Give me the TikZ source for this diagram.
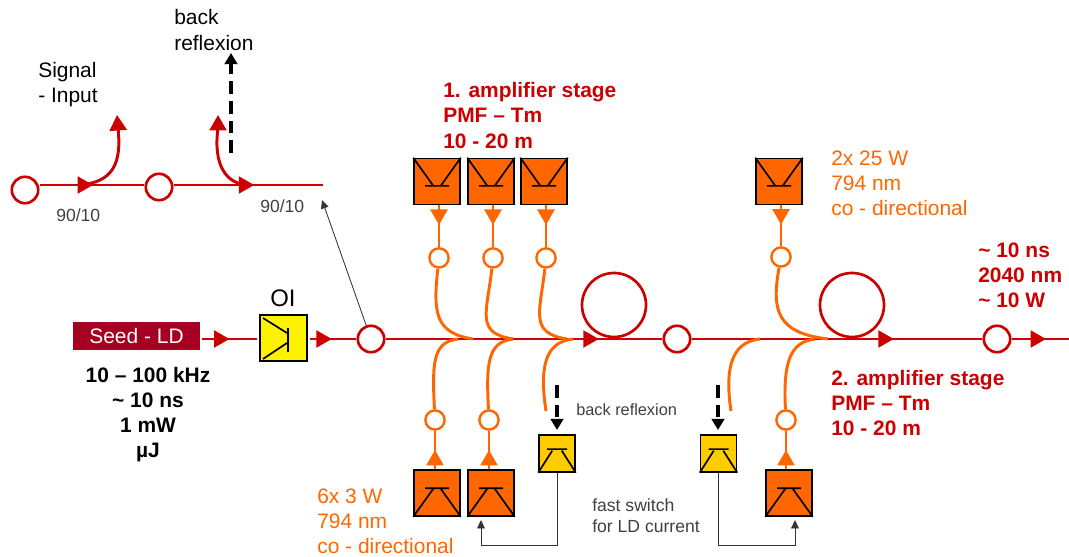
\documentclass[tikz,border=0pt]{standalone}
\usepackage{fontspec}
\setmainfont{Liberation Sans}
\usepackage{tikz}
\usetikzlibrary{arrows.meta,decorations.markings}
\definecolor{fibrered}{HTML}{CC0000}
\definecolor{pumporange}{HTML}{FF6600}
\definecolor{seedred}{HTML}{A50021}
\definecolor{ldyellow}{HTML}{FFCC00}
\tikzset{
  txt/.style={inner sep=0pt,align=left,font=\fontsize{14.9}{17.8}\selectfont},
  small/.style={inner sep=0pt,align=left,font=\fontsize{12.5}{15}\selectfont,text=black!75},
  redtxt/.style={txt,text=fibrered,font=\fontsize{14.9}{17.8}\selectfont\bfseries},
  orangetxt/.style={txt,text=pumporange},
  fibre/.style={draw=fibrered,line width=1.8pt},
  branch/.style={draw=fibrered,line width=2.1pt,-{Triangle[length=11pt,width=12pt,color=fibrered]}},
  pumpline/.style={draw=pumporange,line width=2.1pt},
  splice/.style={circle,draw=fibrered,fill=white,line width=1.9pt,minimum size=0.66cm,inner sep=0pt},
  pumpsplice/.style={circle,draw=pumporange,fill=white,line width=1.7pt,minimum size=0.48cm,inner sep=0pt},
  coil/.style={circle,draw=fibrered,line width=1.9pt,minimum size=1.6cm,inner sep=0pt},
  pumpbox/.style={draw=black,fill=pumporange,line width=1.1pt,minimum size=1.15cm,inner sep=0pt},
  ldbox/.style={draw=black,fill=ldyellow,line width=1.1pt,minimum width=0.9cm,minimum height=0.92cm,inner sep=0pt},
  isobox/.style={draw=black,fill=yellow,line width=1.1pt,minimum width=1.17cm,minimum height=1.15cm,inner sep=0pt},
  symb/.style={draw=black,line width=1.2pt},
  redtip/.style={postaction={decorate,decoration={markings,mark=at position #1 with {\arrow[fibrered]{Triangle[length=11pt,width=12pt]}}}}},
  orangetip/.style={postaction={decorate,decoration={markings,mark=at position #1 with {\arrow[pumporange]{Triangle[length=11pt,width=12pt]}}}}},
  thinline/.style={draw=black!80,line width=0.6pt,-{Triangle[length=6pt,width=5.5pt]}},
  backdash/.style={draw=black,line width=2.2pt,dash pattern=on 9pt off 5pt,-{Triangle[length=8pt,width=9pt]}}
}
\begin{document}
\begin{tikzpicture}[x=0.025cm,y=-0.025cm]
  \useasboundingbox (0,0) rectangle (1069,557);
  % main line
  \node[draw=none,fill=seedred,text=white,minimum width=3.18cm,minimum height=0.7cm,inner sep=0pt,font=\fontsize{14.9}{17.8}\selectfont] (seed) at (136.5,336) {Seed - LD};
  \node[isobox] (iso) at (283.5,338) {};
  \node[splice] (sa) at (371,339) {};
  \node[splice] (sb) at (677,339) {};
  \node[splice] (sc) at (997,339) {};
  \node[coil] (cola) at (614,305) {};
  \node[coil] (colb) at (852,305) {};
  \coordinate (seedout) at (202,339);
  \coordinate (isoin) at (257,339);
  \coordinate (isoout) at (310,339);
  \coordinate (outend) at (1069,339);
  \draw[fibre,redtip=0.5] (seedout) -- (isoin);
  \draw[fibre,redtip=0.47] (isoout) -- (sa);
  \draw[fibre,redtip=0.77] (sa) -- (sb);
  \draw[fibre,redtip=0.695] (sb) -- (sc);
  \draw[fibre,redtip=0.6] (sc) -- (outend);
  \draw[symb] (288,328) -- (288,352) (263,318) -- (287,333) (263,359) -- (287,343);
  % tap couplers
  \node[splice] (ta) at (25,190) {};
  \node[splice] (tb) at (159,187) {};
  \coordinate (tapend) at (323,185);
  \coordinate (tapin) at (80,185);
  \coordinate (sigout) at (117,115);
  \coordinate (backout) at (218,115);
  \coordinate (backin) at (248,185);
  \coordinate (backtop) at (231,53);
  \coordinate (backbot) at (231,153);
  \coordinate (taptip) at (322,200);
  \draw[fibre,redtip=0.51] (ta.east |- tapend) -- (tb.west |- tapend);
  \draw[fibre,redtip=0.54] (tb.east |- tapend) -- (tapend);
  \draw[branch] (tapin) .. controls (112,182) and (122,165) .. (118,128) -- (sigout);
  \draw[branch] (backin) .. controls (226,184) and (213,165) .. (218,128) -- (backout);
  \draw[backdash] (backbot) -- (backtop);
  \draw[thinline] (sa) -- (taptip);
  % pumps above the line
  \foreach \n/\x/\ex in {a/437/473,b/491/513,c/544/567}{
    \node[pumpbox] (pu\n) at (\x,181.5) {};
    \draw[symb] (pu\n.north west) -- ++(20,28) (pu\n.north east) -- ++(-20,28)
      ([xshift=-0.3cm,yshift=-0.11cm]pu\n.center) -- ++(24,0);
    \node[pumpsplice] (su\n) at ([xshift=0.05cm,yshift=-1.91cm]pu\n.center) {};
    \coordinate (eu\n) at (\ex,339);
    \draw[pumpline,orangetip=0.47] (su\n |- pu\n.south) -- (su\n);
    \draw[pumpline] (su\n) .. controls +(-6,55) and +(-38,-6) .. (eu\n);
  }
  \node[pumpbox] (pud) at (779,181.5) {};
  \draw[symb] (pud.north west) -- ++(20,28) (pud.north east) -- ++(-20,28)
    ([xshift=-0.3cm,yshift=-0.11cm]pud.center) -- ++(24,0);
  \node[pumpsplice] (sud) at (781,257) {};
  \coordinate (eud) at (828,339);
  \draw[pumpline,orangetip=0.47] (sud |- pud.south) -- (sud);
  \draw[pumpline] (sud) .. controls +(-10,55) and +(-50,-6) .. (eud);
  % pumps below the line
  \foreach \n/\x/\sx/\ex in {a/437/435/458,b/491/489/513,c/789/786/815}{
    \node[pumpbox] (pl\n) at (\x,493) {};
    \draw[symb] (pl\n.south west) -- ++(20,-28) (pl\n.south east) -- ++(-20,-28)
      ([xshift=-0.3cm,yshift=0.12cm]pl\n.center) -- ++(24,0);
    \node[pumpsplice] (sl\n) at (\sx,420) {};
    \coordinate (el\n) at (\ex,339);
    \draw[pumpline,orangetip=0.5] (sl\n |- pl\n.north) -- (sl\n);
    \draw[pumpline] (sl\n) .. controls +(-3,-58) and +(-25,3) .. (el\n);
  }
  % switched diodes
  \foreach \n/\x/\tx/\ex in {a/557/546/573,b/718.5/731/760}{
    \node[ldbox] (ld\n) at (\x,453.5) {};
    \draw[symb] (ld\n.south west) -- ++(14,-22) (ld\n.south east) -- ++(-14,-22)
      ([xshift=-0.25cm,yshift=0.11cm]ld\n.center) -- ++(20,0);
    \coordinate (ft\n) at (\tx,411);
    \coordinate (fe\n) at (\ex,339);
    \draw[pumpline] (ft\n) .. controls +(-6,-40) and +(-30,3) .. (fe\n);
  }
  \coordinate (dropa) at (557,385);
  \coordinate (dropb) at (718,385);
  \coordinate (tipa) at (557,430);
  \coordinate (tipb) at (718,430);
  \coordinate (swa) at (481,520);
  \coordinate (swb) at (795,520);
  \coordinate (cornera) at (557,545);
  \coordinate (cornerb) at (718,545);
  \draw[backdash] (dropa) -- (tipa);
  \draw[backdash] (dropb) -- (tipb);
  \draw[thinline] (lda.south -| cornera) -- (cornera) -| (swa);
  \draw[thinline] (ldb.south -| cornerb) -- (cornerb) -| (swb);
  % texts
  \node[txt,anchor=west] (lbsig) at (38,84.5) {Signal\\- Input};
  \node[txt,anchor=west] (lbback) at (174,30) {back\\reflexion};
  \node[small,anchor=west] (lbta) at (56,215) {90/10};
  \node[small,anchor=west] (lbtb) at (260,206) {90/10};
  \node[txt,anchor=center,font=\fontsize{17}{20}\selectfont] (lbiso) at (283,298) {OI};
  \node[redtxt,anchor=west] (lbone) at (443,115.5) {1. amplifier stage\\PMF -- Tm\\10 - 20 m};
  \node[redtxt,anchor=west] (lbtwo) at (831,403) {2. amplifier stage\\PMF -- Tm\\10 - 20 m};
  \node[redtxt,anchor=west] (lbout) at (978,275) {\textasciitilde{} 10 ns\\2040 nm\\\textasciitilde{} 10 W};
  \node[orangetxt,anchor=west] (lbpa) at (831,183) {2x 25 W\\794 nm\\co - directional};
  \node[orangetxt,anchor=west] (lbpb) at (317,521) {6x 3 W\\794 nm\\co - directional};
  \node[txt,align=center,font=\fontsize{14.9}{17.8}\selectfont\bfseries] (lbseed) at (148,414.5) {10 -- 100 kHz\\\textasciitilde{} 10 ns\\1 mW\\µJ};
  \node[small,anchor=west,font=\fontsize{11.6}{15}\selectfont] (lbref) at (576,410) {back reflexion};
  \node[small,anchor=west] (lbfast) at (592,515.5) {fast switch\\for LD current};
\end{tikzpicture}
\end{document}
